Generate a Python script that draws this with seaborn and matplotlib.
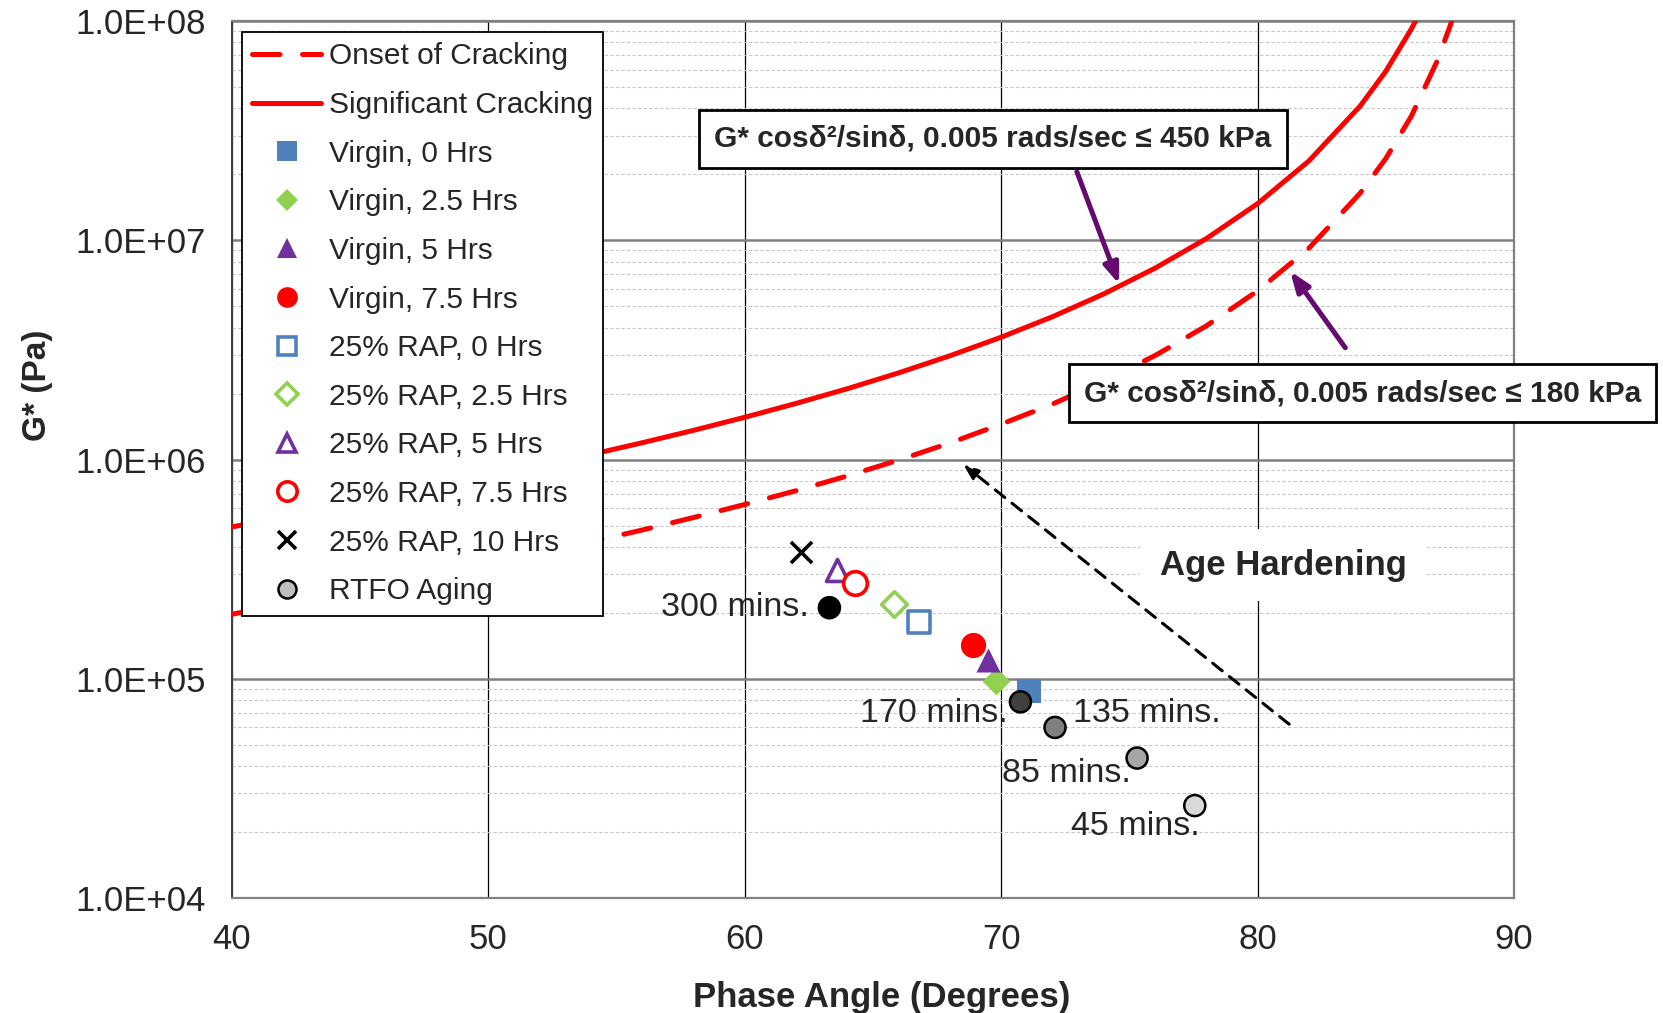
import matplotlib
matplotlib.use("Agg")
import matplotlib.pyplot as plt
from matplotlib import font_manager
from matplotlib.ticker import FixedLocator, LogLocator, FuncFormatter, NullFormatter
from matplotlib.lines import Line2D
import numpy as np
import pandas as pd
import seaborn as sns

# criteria curves (phase angle in degrees, G* in Pa)
curve_angle = [40, 42, 44, 46, 48, 50, 52, 54, 56, 58, 60, 62, 64, 66, 68, 70,
               72, 74, 76, 78, 80, 82, 84, 85, 86, 86.2, 87, 87.5, 87.6]
significant_cracking = [4.93e5, 5.45e5, 6.04e5, 6.71e5, 7.47e5, 8.34e5, 9.36e5, 1.054e6,
                        1.193e6, 1.359e6, 1.559e6, 1.803e6, 2.104e6, 2.485e6, 2.974e6,
                        3.614e6, 4.482e6, 5.693e6, 7.46e6, 1.018e7, 1.47e7, 2.301e7,
                        4.095e7, 5.9e7, 9.22e7, 1.022e8, None, None, None]
onset_of_cracking = [1.97e5, 2.18e5, 2.42e5, 2.68e5, 2.99e5, 3.34e5, 3.74e5, 4.22e5,
                     4.77e5, 5.44e5, 6.24e5, 7.21e5, 8.42e5, 9.94e5, 1.19e6, 1.45e6,
                     1.79e6, 2.28e6, 2.98e6, 4.07e6, 5.88e6, 9.2e6, 1.64e7, 2.36e7,
                     3.69e7, None, 6.56e7, 9.45e7, 1.025e8]

# binder samples
sample_labels = ["Virgin, 0 Hrs", "Virgin, 2.5 Hrs", "Virgin, 5 Hrs", "Virgin, 7.5 Hrs",
                 "25% RAP, 0 Hrs", "25% RAP, 2.5 Hrs", "25% RAP, 5 Hrs",
                 "25% RAP, 7.5 Hrs", "25% RAP, 10 Hrs"]
sample_angle = [71.1, 69.8, 69.5, 68.9, 66.8, 65.8, 63.6, 64.3, 62.2]
sample_gstar = [8.8e4, 9.8e4, 1.22e5, 1.42e5, 1.81e5, 2.19e5, 3.13e5, 2.73e5, 3.78e5]

# RTFO aging
rtfo_labels = ["300 mins.", "170 mins.", "135 mins.", "85 mins.", "45 mins."]
rtfo_angle = [63.3, 70.75, 72.1, 75.3, 77.55]
rtfo_gstar = [2.11e5, 7.85e4, 6.0e4, 4.35e4, 2.64e4]

sns.set_style("white")

def pick_font(name, fallback):
    try:
        font_manager.findfont(name, fallback_to_default=False)
        return name
    except Exception:
        return fallback

ARIAL = pick_font("Liberation Sans", "DejaVu Sans")
NARROW = pick_font("Liberation Sans Narrow", ARIAL)
plt.rcParams["font.family"] = [ARIAL, "DejaVu Sans"]
box_size = 25 if NARROW != ARIAL else 21.5

fig = plt.figure(figsize=(16.63, 10.13), dpi=100)
ax = fig.add_axes([0.1395, 0.1135, 0.7709, 0.8657])

curves = pd.DataFrame({"angle": curve_angle, "sig": significant_cracking,
                       "onset": onset_of_cracking})
sns.lineplot(data=curves.dropna(subset=["onset"]), x="angle", y="onset", ax=ax,
             color="#FF0000", lw=3.6, linestyle=(0, (5.5, 4.5)), dash_capstyle="round",
             zorder=3)
sns.lineplot(data=curves.dropna(subset=["sig"]), x="angle", y="sig", ax=ax,
             color="#FF0000", lw=3.6, solid_capstyle="round", zorder=3)

blue, green, purple, red = "#4F81BD", "#92D050", "#7030A0", "#FF0000"
styles = [  # (marker, face, edge, size)
    ("s", blue, blue, 280),
    ("D", green, green, 200),
    ("^", purple, purple, 300),
    ("o", red, red, 330),
    ("s", "white", blue, 260),
    ("D", "white", green, 170),
    ("^", "white", purple, 250),
    ("o", "white", red, 290),
    ("x", "black", "black", 230),
]
handles = [Line2D([], [], color=red, lw=3.6, linestyle=(0, (5.5, 4.5)), dash_capstyle="round"),
           Line2D([], [], color=red, lw=3.6)]
labels = ["Onset of Cracking", "Significant Cracking"]
for lab, xa, ya, (mk, fc, ec, s) in zip(sample_labels, sample_angle, sample_gstar, styles):
    lw = 2.6 if fc == "white" or mk == "x" else 0
    sns.scatterplot(x=[xa], y=[ya], ax=ax, marker=mk, s=s, color=fc if mk != "x" else "black",
                    edgecolor=ec, linewidth=lw, zorder=5)
    handles.append(Line2D([], [], ls="none", marker=mk, markersize=np.sqrt(s) * 0.82,
                          markerfacecolor=fc, markeredgecolor=ec,
                          markeredgewidth=lw if lw else 0, color=ec))
    labels.append(lab)

rtfo_colors = ["#000000", "#404040", "#808080", "#A6A6A6", "#D9D9D9"]
sns.scatterplot(x=rtfo_angle, y=rtfo_gstar, ax=ax, s=230, hue=rtfo_labels,
                palette=rtfo_colors, edgecolor="black", linewidth=1.8, legend=False, zorder=5)
handles.append(Line2D([], [], ls="none", marker="o", markersize=13,
                      markerfacecolor="#BFBFBF", markeredgecolor="black", markeredgewidth=1.8))
labels.append("RTFO Aging")

# RTFO labels
lab_pos = [(62.5, 2.12e5, "right"), (70.27, 6.98e4, "right"), (72.8, 6.98e4, "left"),
           (75.06, 3.68e4, "right"), (77.75, 2.13e4, "right")]
for txt, (xa, ya, ha) in zip(rtfo_labels, lab_pos):
    ax.text(xa, ya, txt, fontsize=24.5, ha=ha, va="center", zorder=6)

ax.set_yscale("log")
ax.set_xlim(40, 90)
ax.set_ylim(1e4, 1e8)
ax.xaxis.set_major_locator(FixedLocator([40, 50, 60, 70, 80, 90]))
ax.xaxis.set_minor_locator(FixedLocator([x for x in range(42, 90, 2) if x % 10]))
ax.yaxis.set_major_locator(LogLocator(base=10, numticks=10))
ax.yaxis.set_minor_locator(LogLocator(base=10, subs=np.arange(2, 10), numticks=100))
ax.yaxis.set_major_formatter(FuncFormatter(lambda v, p: f"{v:.1E}"))
ax.yaxis.set_minor_formatter(NullFormatter())

ax.grid(which="major", axis="x", color="black", lw=0.9)
ax.grid(which="major", axis="y", color="#808080", lw=1.8)
ax.grid(which="minor", axis="y", color="#C8C8C8", lw=0.8, linestyle=(0, (3, 2)))
ax.set_axisbelow(True)

ax.tick_params(axis="x", which="major", direction="out", length=8, width=1, pad=10,
               labelsize=25, color="black")
ax.tick_params(axis="x", which="minor", direction="in", length=6, width=1, color="black")
ax.tick_params(axis="y", which="major", direction="out", length=7, width=1, pad=12,
               labelsize=25, color="#404040")
ax.tick_params(axis="y", which="minor", length=0)
for side in ["top", "right", "bottom"]:
    ax.spines[side].set_color("#808080")
    ax.spines[side].set_linewidth(1.6)
ax.spines["left"].set_color("#404040")
ax.spines["left"].set_linewidth(1.4)

ax.set_xlabel("Phase Angle (Degrees)", fontsize=25, fontweight="bold")
ax.set_ylabel("G* (Pa)", fontsize=24, fontweight="bold")
ax.xaxis.set_label_coords(0.507, -0.095)
ax.yaxis.set_label_coords(-0.140, 0.585)

# criteria call-outs
box = dict(boxstyle="square,pad=0.5", fc="white", ec="black", lw=2)
ax.text(69.68, 10 ** 7.463, "G* cosδ²/sinδ, 0.005 rads/sec ≤ 450 kPa", fontsize=box_size,
        fontweight="bold", family=[NARROW, "DejaVu Sans"], ha="center", va="center",
        bbox=box, zorder=7)
ax.text(84.08, 10 ** 6.302, "G* cosδ²/sinδ, 0.005 rads/sec ≤ 180 kPa", fontsize=box_size,
        fontweight="bold", family=[NARROW, "DejaVu Sans"], ha="center", va="center",
        bbox=box, zorder=7, clip_on=False)
arrow_purple = "#650A6E"
ax.annotate("", xy=(74.6, 10 ** 6.80), xytext=(72.95, 10 ** 7.313),
            arrowprops=dict(arrowstyle="-|>,head_length=1.2,head_width=0.45",
                            color=arrow_purple, lw=3.6, shrinkA=0, shrinkB=0), zorder=6)
ax.annotate("", xy=(81.27, 10 ** 6.859), xytext=(83.42, 10 ** 6.51),
            arrowprops=dict(arrowstyle="-|>,head_length=1.2,head_width=0.45",
                            color=arrow_purple, lw=3.6, shrinkA=0, shrinkB=0), zorder=6)
ax.annotate("", xy=(68.52, 10 ** 5.978), xytext=(81.23, 10 ** 4.793),
            arrowprops=dict(arrowstyle="-|>,head_length=0.9,head_width=0.35",
                            color="black", lw=2.2, linestyle=(0, (4, 3)),
                            shrinkA=0, shrinkB=0), zorder=4)
ax.text(80.99, 10 ** 5.519, "Age Hardening", fontsize=25, fontweight="bold", ha="center",
        va="center", zorder=4,
        bbox=dict(boxstyle="square,pad=0.55", fc="white", ec="none"))

leg = ax.legend(handles, labels, loc="upper left", bbox_to_anchor=(0.0078, 0.9875),
                borderaxespad=0, fontsize=21.5, frameon=True, fancybox=False,
                framealpha=1, edgecolor="black", handlelength=2.3, handletextpad=0.25,
                borderpad=0.35, labelspacing=0.69)
leg.get_frame().set_linewidth(1.3)
leg.set_zorder(10)

fig.savefig("out.png", dpi=100)
